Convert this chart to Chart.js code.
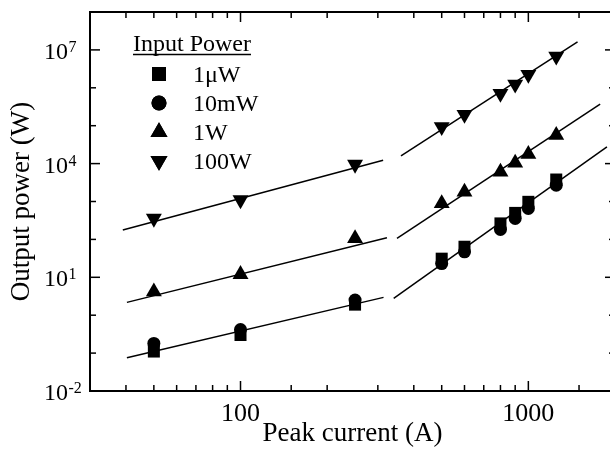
<!DOCTYPE html>
<html><head><meta charset="utf-8">
<script src="https://cdn.jsdelivr.net/npm/chart.js@4/dist/chart.umd.min.js"></script>
<style>html,body{margin:0;padding:0;background:#fff;overflow:hidden}#wrap{position:relative;width:610px;height:450px;overflow:hidden}</style>
</head><body><div id="wrap"><canvas id="c" width="620" height="450"></canvas></div>
<script>
// ---- data ----
const currents = [50, 100, 250, 500, 600, 800, 900, 1000, 1250];
const power1uW  = [0.11, 0.30, 1.9, 31, 64, 264, 500, 980, 3800];
const power10mW = [0.18, 0.42, 2.5, 23, 47, 183, 357, 656, 2700];
const power1W   = [4.2, 12, 106, 890, 1800, 6000, 10400, 17700, 56000];
const power100W = [357, 1100, 9500, 93000, 197000, 705000, 1240000, 2240000, 6800000];
const seriesLabels = ['1\u03bcW', '10mW', '1W', '100W'];
const legendTitle = 'Input Power';
// fitted lines (two segments per curve): current endpoints and power endpoints
const fitLowX  = { uW: [40.3, 314], W1: [40.3, 322.6], W100: [39, 313] };
const fitLowY  = { uW: [0.0755, 2.95], W1: [2.18, 110], W100: [176, 12300] };
const fitHighX = { uW: [340.5, 1875], W1: [349.6, 1776], W100: [361, 1482] };
const fitHighY = { uW: [2.78, 27600], W1: [106, 369000], W100: [16000, 16200000] };
const yLabelExponents = [-2, 1, 4, 7];
const xLabelValues = [100, 1000];
const xTitle = 'Peak current (A)';
const yTitle = 'Output power (W)';

const F = '"Liberation Serif","Times New Roman",serif';
const pts = (xs, ys) => xs.map((v, i) => ({x: v, y: ys[i]}));

const markerDefs = [
  {data: power1uW,  style: 'rect',     radius: 8.5, rot: 0,   leg: 9.9},
  {data: power10mW, style: 'circle',   radius: 6.5, rot: 0,   leg: 7.5},
  {data: power1W,   style: 'triangle', radius: 9.2, rot: 0,   leg: 9.8},
  {data: power100W, style: 'triangle', radius: 9.2, rot: 180, leg: 9.8}
];

const datasets = [];
markerDefs.forEach((m, i) => {
  datasets.push({
    label: seriesLabels[i], data: pts(currents, m.data), showLine: false,
    pointStyle: m.style, pointRadius: m.radius, pointRotation: m.rot,
    pointBackgroundColor: '#000', pointBorderWidth: 0, order: 0
  });
});
['uW', 'W1', 'W100'].forEach(k => {
  datasets.push({data: pts(fitLowX[k], fitLowY[k]), showLine: true, pointRadius: 0, borderColor: '#000', borderWidth: 1.5, order: 1});
  datasets.push({data: pts(fitHighX[k], fitHighY[k]), showLine: true, pointRadius: 0, borderColor: '#000', borderWidth: 1.5, order: 1});
});

const isDecade = v => Math.abs(Math.log10(v) - Math.round(Math.log10(v))) < 1e-9;

const framePlugin = {
  id: 'frame',
  afterDraw(chart) {
    const {ctx, chartArea: a, scales: {x, y}} = chart;
    ctx.save();
    ctx.strokeStyle = '#000';
    ctx.fillStyle = '#000';
    const line = (x0, y0, x1, y1) => { ctx.beginPath(); ctx.moveTo(x0, y0); ctx.lineTo(x1, y1); ctx.stroke(); };
    ctx.lineWidth = 1.5;
    x.ticks.forEach(t => {
      const v = t.value;
      if (v <= x.min * 1.001 || v >= x.max * 0.999) return;
      const px = x.getPixelForValue(v);
      const L = xLabelValues.some(q => Math.abs(q - v) < 1e-6) ? 10 : 6;
      line(px, a.bottom, px, a.bottom - L);
      line(px, a.top, px, a.top + L);
    });
    for (let e = Math.round(Math.log10(y.min)) + 1; e < Math.round(Math.log10(y.max)); e++) {
      const py = y.getPixelForValue(Math.pow(10, e));
      const L = yLabelExponents.includes(e) ? 10 : 6;
      line(a.left, py, a.left + L, py);
      line(a.right, py, a.right - L, py);
    }
    ctx.lineWidth = 2;
    ctx.strokeRect(a.left, a.top, a.right - a.left, a.bottom - a.top);
    // y tick labels 10^n
    yLabelExponents.forEach(e => {
      const py = y.getPixelForValue(Math.pow(10, e));
      ctx.font = '24px ' + F;
      ctx.textAlign = 'right'; ctx.textBaseline = 'alphabetic';
      ctx.fillText('10', 68, py + 9);
      ctx.font = '16px ' + F;
      ctx.textAlign = 'left';
      ctx.fillText(String(e), 68.5, py + 2);
    });
    // legend
    ctx.font = '24px ' + F;
    ctx.textAlign = 'left'; ctx.textBaseline = 'alphabetic';
    ctx.fillText(legendTitle, 133, 51);
    const w = ctx.measureText(legendTitle).width;
    ctx.lineWidth = 1.5;
    line(133, 54.5, 133 + w, 54.5);
    const rows = [74, 103, 132, 161];
    markerDefs.forEach((m, i) => {
      Chart.helpers.drawPoint(ctx, {pointStyle: m.style, radius: m.leg, rotation: m.rot, borderWidth: 0}, 159, rows[i]);
      ctx.fill();
      ctx.fillText(seriesLabels[i], 193, rows[i] + 8);
    });
    ctx.restore();
  }
};

new Chart(document.getElementById('c'), {
  type: 'scatter',
  data: {datasets},
  options: {
    responsive: false, animation: false, devicePixelRatio: 1,
    layout: {autoPadding: false, padding: {top: 12, right: 5, left: 0, bottom: 0}},
    plugins: {legend: {display: false}, tooltip: {enabled: false}},
    scales: {
      x: {
        type: 'logarithmic', min: 30, max: 2000,
        grid: {display: false}, border: {display: false},
        ticks: {autoSkip: false, maxRotation: 0, padding: 0, color: '#000',
          font: {family: F, size: 26},
          callback: v => (isDecade(v) && xLabelValues.includes(Math.round(v))) ? String(Math.round(v)) : ''},
        title: {display: true, text: xTitle, color: '#000', font: {family: F, size: 27, lineHeight: 1.1}, padding: {top: 0, bottom: 1}},
        afterFit: s => { s.height = 59; s.paddingLeft = 0; s.paddingRight = 0; }
      },
      y: {
        type: 'logarithmic', min: 0.01, max: 1e8,
        grid: {display: false}, border: {display: false},
        ticks: {display: false},
        title: {display: true, text: yTitle, color: '#000', font: {family: F, size: 27, lineHeight: 1.1}, padding: {top: 7, bottom: 0}},
        afterFit: s => { s.width = 90; s.paddingTop = 0; s.paddingBottom = 0; }
      }
    }
  },
  plugins: [framePlugin]
});
</script></body></html>
